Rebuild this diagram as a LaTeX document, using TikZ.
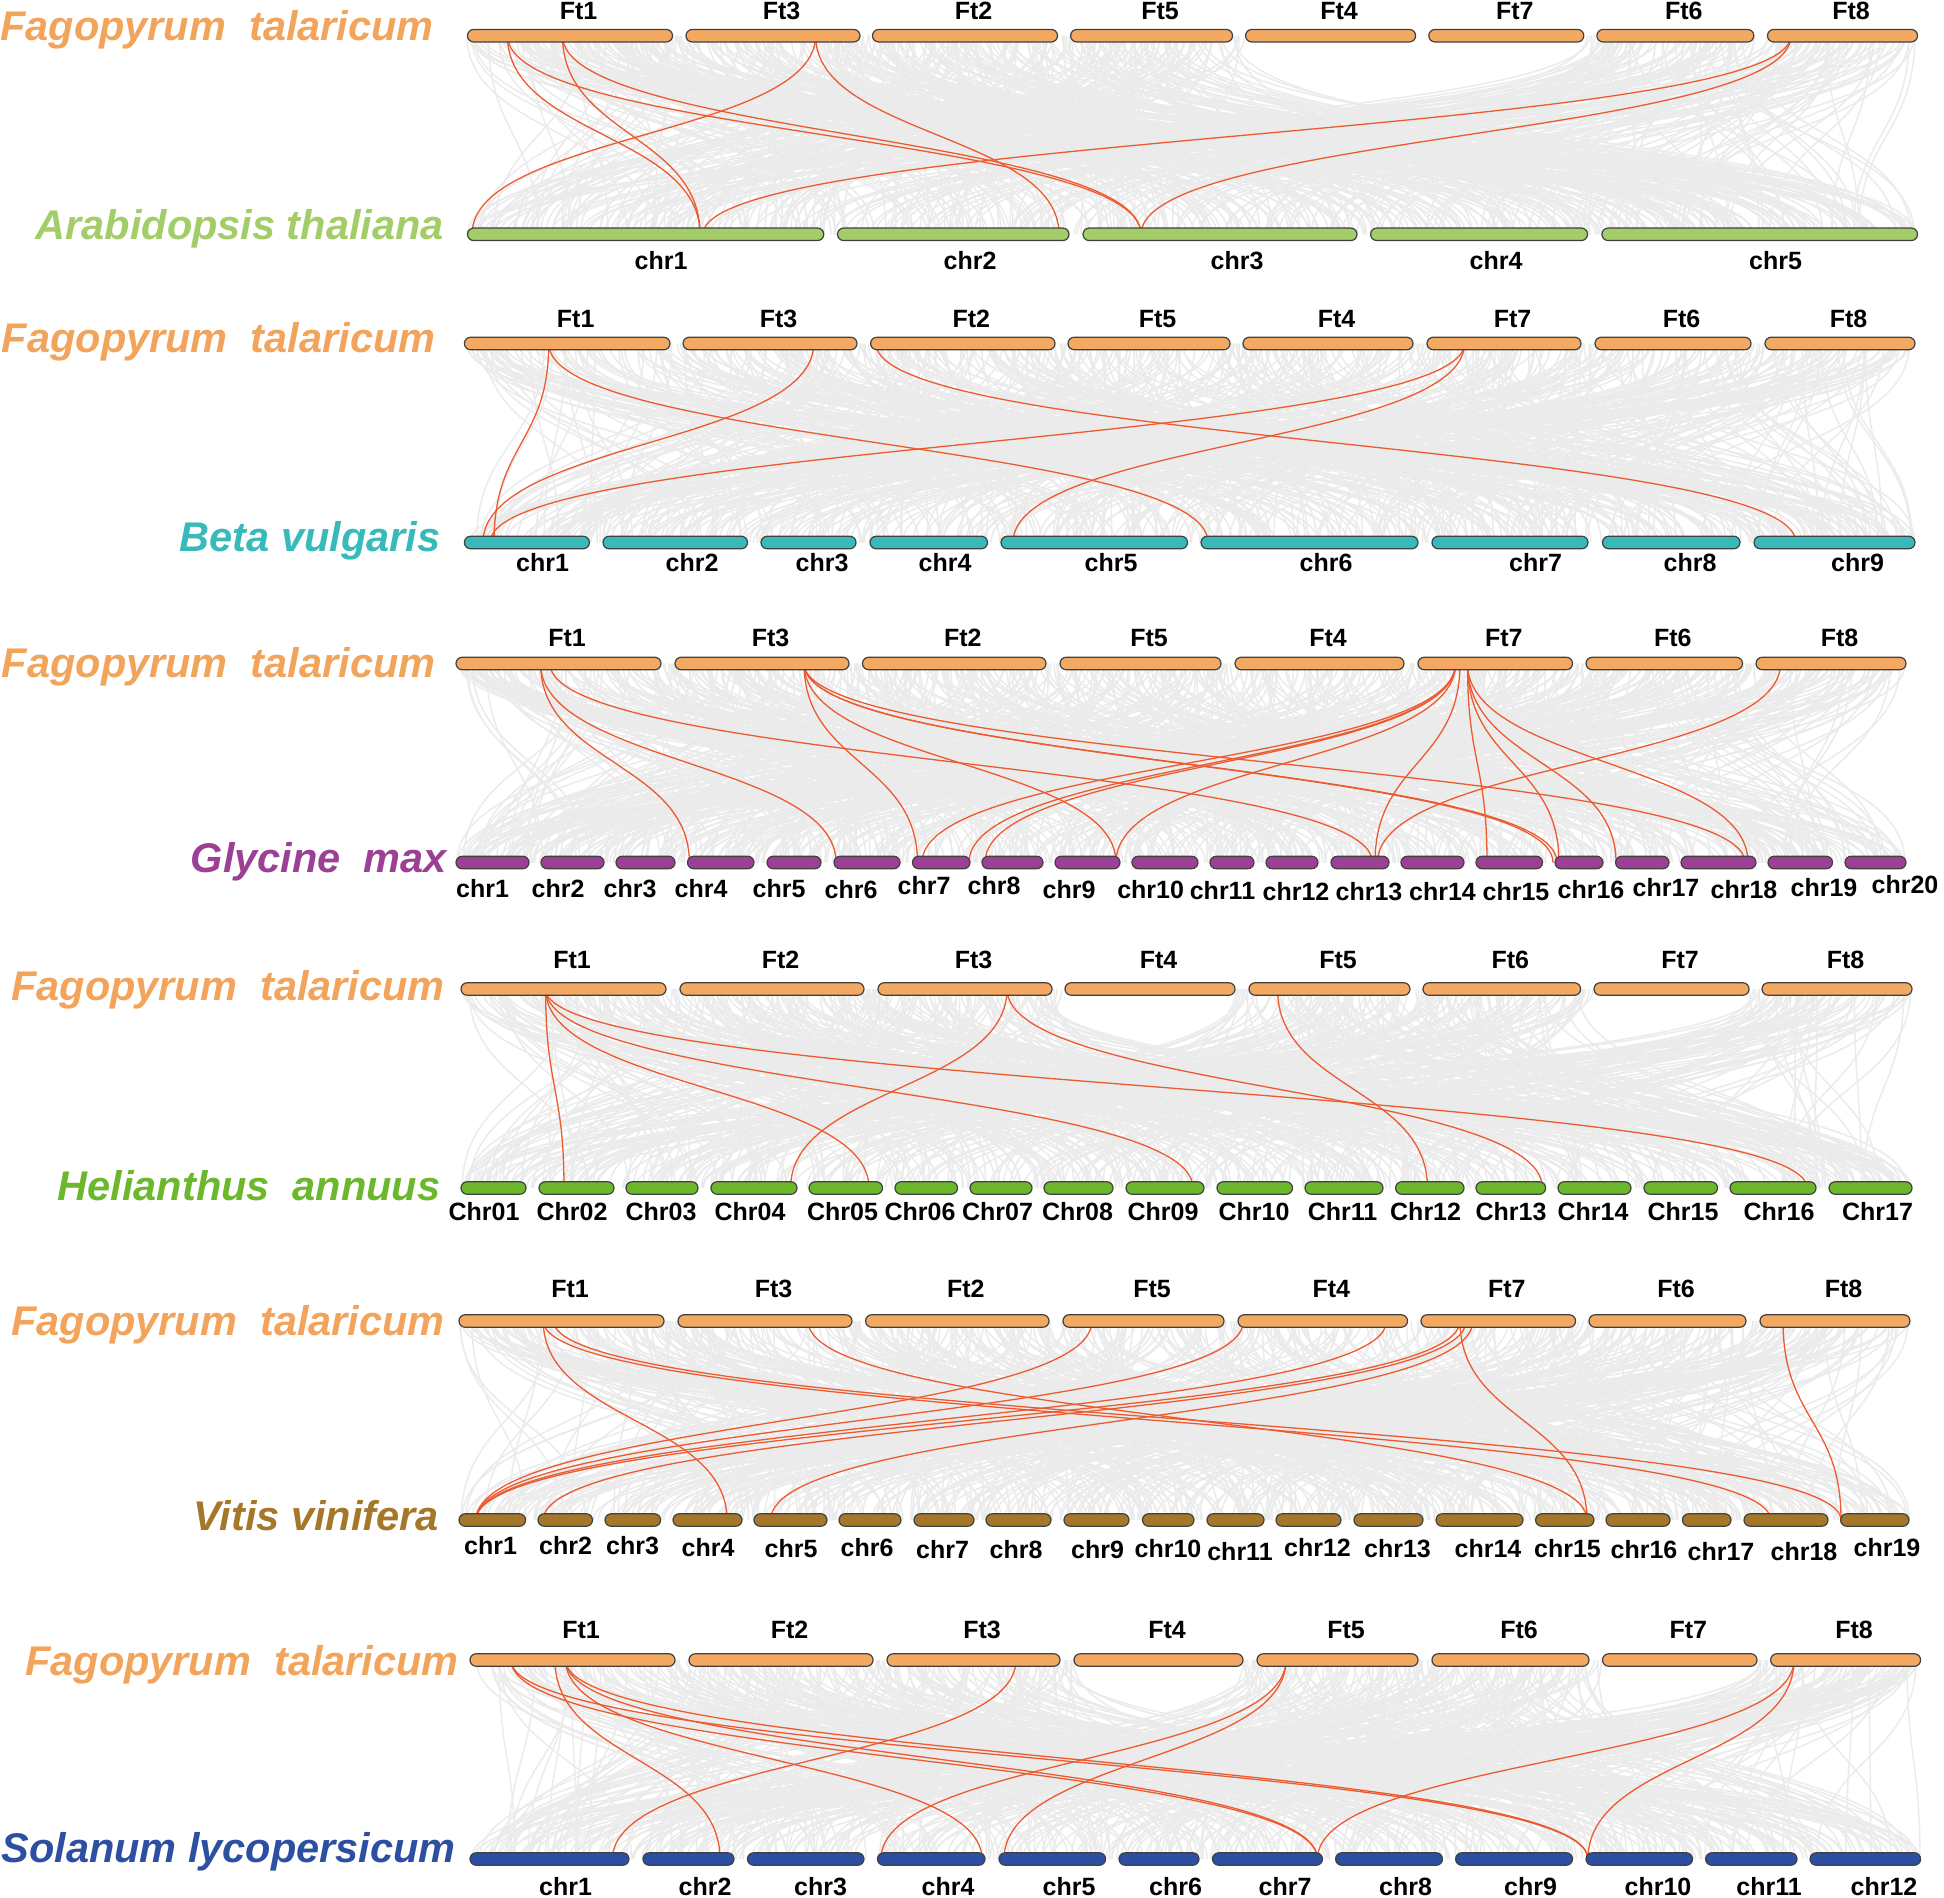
\documentclass[tikz,border=0pt]{standalone}
\usepackage{fontspec}
\setmainfont{Liberation Sans}
\definecolor{ftorange}{HTML}{F4A962}
\definecolor{fttext}{HTML}{F2A45C}
\definecolor{atgreen}{HTML}{A2CD68}
\definecolor{bvteal}{HTML}{38BABB}
\definecolor{gmpurple}{HTML}{9B4095}
\definecolor{hagreen}{HTML}{6CB82D}
\definecolor{vvbrown}{HTML}{A57829}
\definecolor{slblue}{HTML}{2C4FA1}
\definecolor{synred}{HTML}{EC5B30}
\definecolor{syngrey}{HTML}{EBEBEB}
\definecolor{barline}{HTML}{404040}
\tikzset{
  chrbox/.style={draw=barline, line width=1.2pt, rounded corners=6.2pt, minimum height=12.5pt, inner sep=0pt, outer sep=0pt},
  ftlab/.style={font=\fontsize{25}{30}\selectfont\bfseries, anchor=base, inner sep=0pt},
  chrlab/.style={font=\fontsize{25}{30}\selectfont\bfseries, anchor=base, inner sep=0pt},
  splab/.style={font=\fontsize{41.5}{48}\selectfont\bfseries\itshape, anchor=base east, inner sep=0pt},
  redlink/.style={draw=synred, line width=1.3pt},
  greylink/.style={draw=syngrey, line width=1.5pt},
}
% grey background synteny curves
\newcommand\greyfan[9]{%
  \pgfmathsetmacro\gL{#5-#4-(#7-#6)-(#9-#8)}%
  \foreach \k in {1,...,#3}{%
    \pgfmathsetmacro\xa{#4+rnd*\gL}%
    \pgfmathsetmacro\xa{\xa>#6 ? \xa+(#7-#6) : \xa}%
    \pgfmathsetmacro\xa{\xa>#8 ? \xa+(#9-#8) : \xa}%
    \pgfmathsetmacro\xb{#4+rnd*(#5-#4)}%
    \draw[greylink] (\xa,#1) .. controls (\xa,{(#1+#2)/2}) and (\xb,{(#1+#2)/2}) .. (\xb,#2);
  }}
% red links
\newcommand\links[3]{%
  \foreach \a/\b in {#3}{%
    \draw[redlink] (\a,#1) .. controls (\a,{(#1+#2)/2}) and (\b,{(#1+#2)/2}) .. (\b,#2);
  }}
% top row of Fagopyrum bars
\newcommand\toprow[4]{%
  \foreach \n/\a/\b in {#4}{%
    \node[chrbox, fill=ftorange, minimum width={(\b-\a)*1pt}] (#1\n) at ({(\a+\b)/2},#2) {};
    \node[ftlab] (#1\n-l) at ({(\a+\b)/2+8.5},#3) {\n};
  }}
% bottom row of bars
\newcommand\botrow[4]{%
  \foreach \n/\a/\b in {#4}{%
    \node[chrbox, fill=#3, minimum width={(\b-\a)*1pt}] (#1\n) at ({(\a+\b)/2},#2) {};
  }}
\newcommand\botlabs[2]{%
  \foreach \n/\x/\y in {#2}{%
    \node[chrlab] (#1\n-l) at (\x,\y) {\n};
  }}
\begin{document}
\begin{tikzpicture}[x=1pt,y=-1pt]
\useasboundingbox (0,0) rectangle (1944,1898);
\pgfmathsetseed{7}
% ---------- grey curves ----------
\greyfan{35.7}{234.3}{600}{467}{1917}{1245}{1584}{6000}{6000}
\greyfan{343.5}{542.5}{650}{464}{1915}{5000}{5000}{6000}{6000}
\greyfan{663.5}{862.5}{750}{456}{1906}{5000}{5000}{6000}{6000}
\greyfan{989}{1188}{600}{461}{1912}{1065}{1235}{1594}{1749}
\greyfan{1321}{1520}{650}{459}{1910}{5000}{5000}{6000}{6000}
\greyfan{1660}{1859}{600}{470}{1920}{1074}{1243}{1602}{1757}
% ---------- red curves ----------
\links{35.7}{234.3}{507.5/700, 562.5/700, 507.5/1141, 562.5/1141, 815.6/472, 815.6/1059, 1791/703, 1791/1141}
\links{343.5}{542.5}{548.75/494, 548.75/1208, 813.75/483, 876/1796, 1464.4/490, 1464.4/1013}
\links{663.5}{862.5}{540.6/689.4, 540.6/836, 550/1372.5, 804/917.5, 804/1116, 804/1553, 804/1557, 804/1745,
  1455.6/922, 1455.6/969, 1455.6/985, 1455.6/1116, 1460/1375, 1467.5/1487, 1467.5/1559, 1467.5/1616, 1467.5/1748, 1780.6/1377.5}
\links{989}{1188}{545.6/564, 545.6/869, 545.6/1193, 545.6/1807, 1007/790.6, 1007/1542.5, 1277.5/1427.5}
\links{1321}{1520}{543.3/727, 543.3/1770.6, 553.8/1841, 808/1587, 1460/1587, 1783/1841,
  1092/476, 1243.4/476, 1386.5/476, 1460/476, 1466/543.3, 1472.8/770.6}
\links{1660}{1859}{511/1317.5, 511/1588, 565.6/1317.5, 565.6/1588, 565.6/982, 555/720, 1016/612.5, 1286/881, 1286/1004, 1794/1317.5, 1794/1588}
% ---------- panel 1 ----------
\toprow{a}{35.7}{19.5}{Ft1/467.5/672.5, Ft3/686/860, Ft2/872.5/1057.5, Ft5/1070.6/1232.5, Ft4/1245.6/1415.6, Ft7/1428.8/1583.8, Ft6/1596.9/1753.8, Ft8/1767.5/1917.5}
\botrow{a}{234.3}{atgreen}{chr1/467.5/823.75, chr2/837.5/1069, chr3/1083/1357, chr4/1370.6/1587.5, chr5/1601.9/1917.5}
\botlabs{a}{chr1/661/269, chr2/970/269, chr3/1237/269, chr4/1496/269, chr5/1775.6/269}
\node[splab, text=fttext] (aFag) at (434,40.7) {Fagopyrum\ \ talaricum};
\node[splab, text=atgreen] (aAra) at (444,239.3) {Arabidopsis thaliana};
% ---------- panel 2 ----------
\toprow{b}{343.5}{327}{Ft1/464.4/670, Ft3/683/857, Ft2/870.6/1055, Ft5/1068/1230, Ft4/1243/1413, Ft7/1427/1581, Ft6/1595/1751, Ft8/1765/1915}
\botrow{b}{542.5}{bvteal}{chr1/464.4/589.4, chr2/603/747.5, chr3/761/856, chr4/870/987.5, chr5/1001/1187.5, chr6/1201/1418, chr7/1432/1588, chr8/1602.5/1740, chr9/1754/1915}
\botlabs{b}{chr1/542.5/571.5, chr2/692/571.5, chr3/822/571.5, chr4/945/571.5, chr5/1111/571.5, chr6/1326/571.5, chr7/1535.6/571.5, chr8/1690/571.5, chr9/1857.5/571.5}
\node[splab, text=fttext] (bFag) at (435.6,352.3) {Fagopyrum\ \ talaricum};
\node[splab, text=bvteal] (bBeta) at (440.6,551) {Beta vulgaris};
% ---------- panel 3 ----------
\toprow{c}{663.5}{646}{Ft1/456/661, Ft3/675/849, Ft2/862.5/1046, Ft5/1060/1221, Ft4/1235/1404, Ft7/1418/1572.5, Ft6/1586/1742.5, Ft8/1756/1906}
\botrow{c}{862.5}{gmpurple}{chr1/456/529, chr2/541/604, chr3/616/675, chr4/687.5/754, chr5/767/821, chr6/834/900, chr7/912.5/970, chr8/982/1043, chr9/1055/1120, chr10/1132/1198, chr11/1210/1254, chr12/1266/1318, chr13/1331/1389, chr14/1401/1464, chr15/1476/1542.5, chr16/1555/1603, chr17/1615.6/1669, chr18/1681/1756, chr19/1768/1832.5, chr20/1845/1906}
\botlabs{c}{chr1/482.5/897, chr2/558/897, chr3/630/897, chr4/701/897, chr5/779/897, chr6/851/898, chr7/924/894, chr8/994/894, chr9/1069/898, chr10/1150.6/898, chr11/1222.5/899, chr12/1296/900.7, chr13/1369/900.7, chr14/1442.5/900.7, chr15/1516/900.7, chr16/1591/898, chr17/1666/896, chr18/1744/898, chr19/1824/896, chr20/1905/893}
\node[splab, text=fttext] (cFag) at (435.6,677.7) {Fagopyrum\ \ talaricum};
\node[splab, text=gmpurple] (cGly) at (447,872.3) {Glycine\ \ max};
% ---------- panel 4 ----------
\toprow{d}{989}{968}{Ft1/461/666, Ft2/680/864, Ft3/878/1052, Ft4/1065/1235, Ft5/1249/1410, Ft6/1423/1580.6, Ft7/1594/1749, Ft8/1762/1912}
\botrow{d}{1188}{hagreen}{Chr01/461/526, Chr02/539/614, Chr03/626/698, Chr04/711/797, Chr05/809/882.5, Chr06/895/957.5, Chr07/970/1032, Chr08/1044/1113, Chr09/1126/1204, Chr10/1217/1292.5, Chr11/1305/1383, Chr12/1395.6/1464, Chr13/1476/1545.6, Chr14/1558/1631, Chr15/1644/1717.5, Chr16/1730/1816, Chr17/1829/1912}
\botlabs{d}{Chr01/484/1220, Chr02/572/1220, Chr03/661/1220, Chr04/750/1220, Chr05/842.5/1220, Chr06/920/1220, Chr07/997.5/1220, Chr08/1077.5/1220, Chr09/1163/1220, Chr10/1254/1220, Chr11/1342.5/1220, Chr12/1425.6/1220, Chr13/1511/1220, Chr14/1593/1220, Chr15/1683/1220, Chr16/1779/1220, Chr17/1877.5/1220}
\node[splab, text=fttext] (dFag) at (445,1000) {Fagopyrum\ \ talaricum};
\node[splab, text=hagreen] (dHel) at (440.6,1200) {Helianthus\ \ annuus};
% ---------- panel 5 ----------
\toprow{e}{1321}{1297}{Ft1/459/664, Ft3/678/852, Ft2/865.6/1049, Ft5/1063/1224, Ft4/1238/1407.5, Ft7/1421/1575.6, Ft6/1589/1746, Ft8/1760/1910}
\botrow{e}{1520}{vvbrown}{chr1/459/525.6, chr2/538/592.5, chr3/605/660.6, chr4/673/742, chr5/754/827, chr6/839/901, chr7/914/974, chr8/986/1051, chr9/1064/1129, chr10/1142.5/1194, chr11/1207/1264, chr12/1276/1341, chr13/1354/1423, chr14/1436/1523, chr15/1535.6/1594, chr16/1606/1670, chr17/1682.5/1731, chr18/1744/1828, chr19/1840.6/1909}
\botlabs{e}{chr1/490.6/1554, chr2/565.6/1554, chr3/632.5/1554, chr4/708/1556, chr5/791/1557.7, chr6/867/1556, chr7/942.5/1558, chr8/1016/1558, chr9/1097.5/1558, chr10/1168/1557, chr11/1240/1560, chr12/1317.5/1556, chr13/1397.5/1557, chr14/1488/1557, chr15/1567.5/1557, chr16/1644/1558, chr17/1721/1560, chr18/1804/1560, chr19/1887/1556}
\node[splab, text=fttext] (eFag) at (445,1335) {Fagopyrum\ \ talaricum};
\node[splab, text=vvbrown] (eVit) at (439,1530) {Vitis vinifera};
% ---------- panel 6 ----------
\toprow{f}{1660}{1638}{Ft1/470/675, Ft2/689/873, Ft3/887/1060, Ft4/1074/1243, Ft5/1257/1418, Ft6/1432/1589, Ft7/1602.5/1757, Ft8/1770.6/1920.6}
\botrow{f}{1859}{slblue}{chr1/470/629, chr2/643/734, chr3/747.5/864, chr4/877.5/985, chr5/999/1105.6, chr6/1119/1199, chr7/1212.5/1322.5, chr8/1335.6/1442.5, chr9/1455.6/1572.5, chr10/1586/1692.5, chr11/1705.6/1797, chr12/1810/1920.6}
\botlabs{f}{chr1/565.6/1895, chr2/705/1895, chr3/820.6/1895, chr4/948/1895, chr5/1069/1895, chr6/1175.6/1895, chr7/1285/1895, chr8/1405.6/1895, chr9/1530.6/1895, chr10/1658/1895, chr11/1769/1895, chr12/1884/1895}
\node[splab, text=fttext] (fFag) at (459,1675) {Fagopyrum\ \ talaricum};
\node[splab, text=slblue] (fSol) at (456,1862.7) {Solanum lycopersicum};
\end{tikzpicture}
\end{document}
